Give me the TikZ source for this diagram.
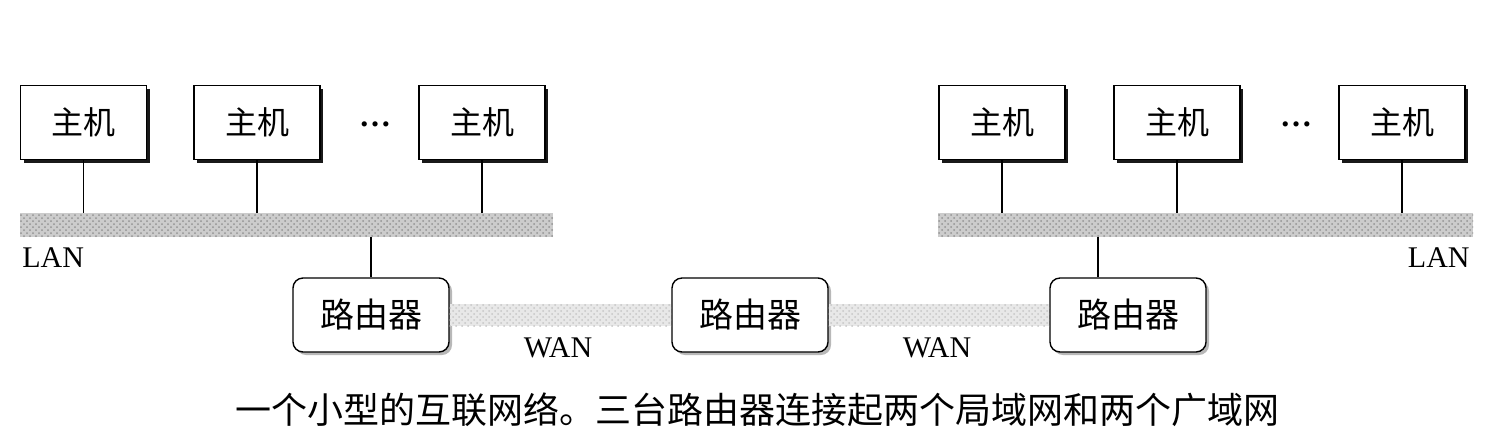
\documentclass[tikz,border=0pt]{standalone}
\usepackage{fontspec}
\setmainfont{Liberation Serif}
\newfontfamily\cjkfont{Noto Sans CJK SC}
\usetikzlibrary{positioning, shadows, patterns, calc}

\begin{document}
\begin{tikzpicture}[
    x=0.5pt, y=-0.5pt,
    host/.style={
        rectangle, draw=black, line width=0.6pt,
        fill=white,
        minimum width=63pt, minimum height=37pt,
        font=\cjkfont\fontsize{16}{18}\selectfont,
        drop shadow={shadow xshift=1.5pt, shadow yshift=-1.5pt,
                     fill=black, opacity=0.9}
    },
    router/.style={
        rectangle, rounded corners=5pt,
        draw=black, line width=0.7pt,
        fill=white,
        minimum width=78pt, minimum height=37pt,
        font=\cjkfont\fontsize{17}{19}\selectfont,
        drop shadow={shadow xshift=1.5pt, shadow yshift=-1.5pt,
                     fill=gray!70, opacity=0.8}
    },
    lan/.style={
        rectangle, inner sep=0pt,
        minimum height=12pt,
        preaction={fill=gray!40},
        pattern=crosshatch dots, pattern color=gray!85
    },
    wan/.style={
        preaction={fill=gray!18},
        pattern=crosshatch dots, pattern color=gray!45
    },
    wire/.style={line width=0.6pt},
    label/.style={font=\fontsize{15}{17}\selectfont, inner sep=0pt},
    dots/.style={font=\fontsize{16}{18}\selectfont\bfseries}
]
\useasboundingbox (0,0) rectangle (1498,446);

% left network
\node[host] (h1) at (83.5,122.5) {主机};
\node[host] (h2) at (257,122.5) {主机};
\node[dots] (d1) at (375,124) {…};
\node[host] (h3) at (482,122.5) {主机};
\node[lan, minimum width=266.5pt] (lanL) at (286.5,225) {};
\node[label, anchor=west] (labL) at (22,258) {LAN};

% right network
\node[host] (h4) at (1002,122.5) {主机};
\node[host] (h5) at (1177,122.5) {主机};
\node[dots] (d2) at (1296,124) {…};
\node[host] (h6) at (1402,122.5) {主机};
\node[lan, minimum width=267.5pt] (lanR) at (1205.5,225) {};
\node[label, anchor=east] (labR) at (1470,258) {LAN};

% routers
\node[router] (r1) at (371,315) {路由器};
\node[router] (r2) at (750,315) {路由器};
\node[router] (r3) at (1128,315) {路由器};

\path[wan] ($(r1.east)+(0,-11)$) rectangle ($(r2.west)+(0,11)$);
\path[wan] ($(r2.east)+(0,-11)$) rectangle ($(r3.west)+(0,11)$);
\node[label] (w1) at (558,348) {WAN};
\node[label] (w2) at (937,348) {WAN};

% host and router taps
\foreach \h in {h1,h2,h3}
    \draw[wire] (\h) -- (\h |- lanL.north);
\foreach \h in {h4,h5,h6}
    \draw[wire] (\h) -- (\h |- lanR.north);
\draw[wire] (lanL.south -| r1) -- (r1);
\coordinate (t3) at (1098,237);
\draw[wire] (t3) -- (t3 |- r3.north);

\node[font=\cjkfont\fontsize{18}{20}\selectfont] (cap) at (757,410)
    {一个小型的互联网络。三台路由器连接起两个局域网和两个广域网};

\end{tikzpicture}
\end{document}
